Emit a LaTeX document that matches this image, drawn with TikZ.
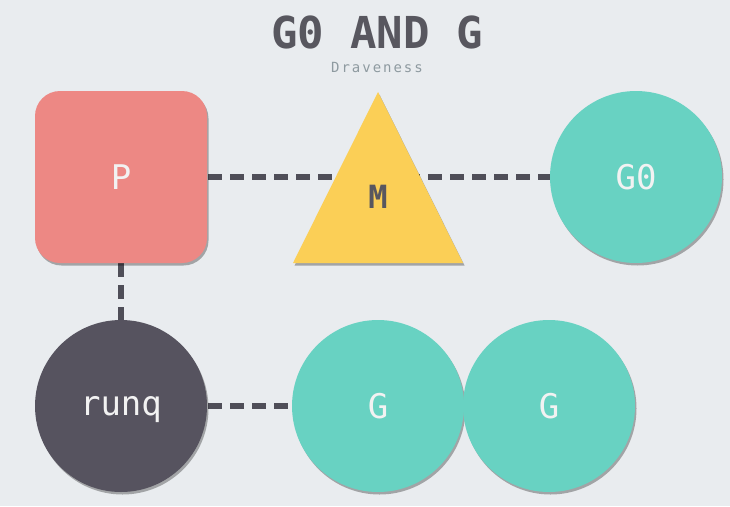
\documentclass[tikz,border=0pt]{standalone}
\usepackage{fontspec}
\setmonofont{DejaVu Sans Mono}
\usetikzlibrary{shadows}
\definecolor{bg}{HTML}{E9ECEF}
\definecolor{pred}{HTML}{ED8884}
\definecolor{myellow}{HTML}{FBCF56}
\definecolor{teal}{HTML}{68D2C2}
\definecolor{darkq}{HTML}{56535F}
\definecolor{dashc}{HTML}{4F4E58}
\definecolor{titlec}{HTML}{58575F}
\definecolor{subc}{HTML}{8E9AA0}
\definecolor{lbl}{HTML}{F2F2F2}
\tikzset{
  shd/.style={drop shadow={shadow xshift=1.5pt, shadow yshift=-2.5pt, opacity=0.3, fill=black}},
  link/.style={draw=dashc, line width=6pt, dash pattern=on 14pt off 8pt},
  lab/.style={font=\ttfamily\fontsize{34}{34}\selectfont, text depth=0pt},
  gcirc/.style={circle, fill=teal, minimum size=172pt, inner sep=0pt, shd, text=lbl, lab}
}
\begin{document}
\begin{tikzpicture}[x=1pt,y=-1pt]
\fill[bg] (0,0) rectangle (730,506);
\useasboundingbox (0,0) rectangle (730,506);
\node[font=\ttfamily\bfseries\fontsize{44}{44}\selectfont, text=titlec] (title) at (377,32) {G0 AND G};
\node[font=\ttfamily\fontsize{14}{14}\selectfont\addfontfeature{LetterSpace=14}, text=subc] (sub) at (377,67) {Draveness};
\coordinate (Pc) at (121,177);
\coordinate (G0c) at (636,177);
\coordinate (Rc) at (121,406);
\coordinate (G1c) at (378,406);
% connectors
\draw[link] (208,177) coordinate (Pe) -- (550,177) coordinate (G0w);
\draw[link] (121,263) coordinate (Ps) -- (121,320) coordinate (Rn);
\draw[link] (208,406) coordinate (Re) -- (292,406) coordinate (G1w);
% P
\node[rectangle, rounded corners=25pt, fill=pred, minimum width=172pt, minimum height=172pt, shd, text=lbl, lab] (P) at (Pc) {P};
% M
\fill[myellow, shd] (378,92) -- (463,263) -- (293,263) -- cycle;
\node[text depth=0pt, text=titlec, font=\ttfamily\bfseries\fontsize{32}{32}\selectfont] (M) at (378,197) {M};
% G0
\node[gcirc] (G0) at (G0c) {G0};
% runq
\node[circle, fill=darkq, minimum size=172pt, inner sep=0pt, shd, text=lbl, lab] (runq) at (Rc) {runq};
% G circles
\node[gcirc] (G1) at (G1c) {G};
\node[gcirc] (G2) at (549,406) {G};
\end{tikzpicture}
\end{document}
